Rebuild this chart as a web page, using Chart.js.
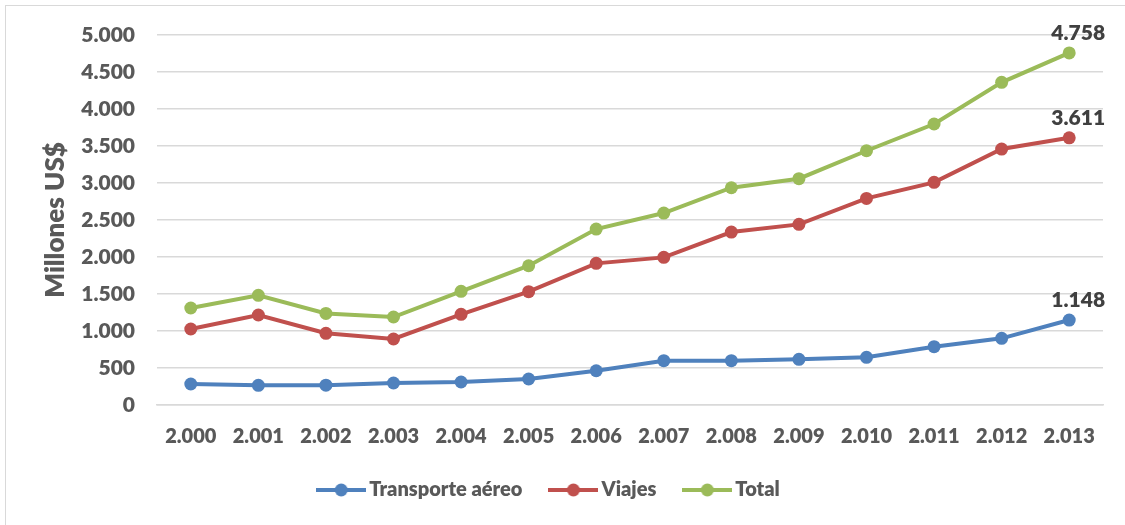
<!DOCTYPE html>
<html>
<head>
<meta charset="utf-8">
<script src="https://cdn.jsdelivr.net/npm/chart.js@4"></script>
<style>
  body { margin: 0; background: #fff; }
  #wrap { position: relative; width: 1125px; height: 525px; overflow: hidden; }
  #frame { position: absolute; left: 5px; top: 5px; width: 1200px; height: 600px; border-left: 1.5px solid #d9d9d9; border-top: 1.5px solid #d9d9d9; }
  canvas { position: absolute; left: 0; top: 0; }
</style>
</head>
<body>
<div id="wrap">
  <div id="frame"></div>
  <canvas id="tourismChart" width="1125" height="525"></canvas>
</div>
<script>
// years shown on the x axis
const years = ["2.000", "2.001", "2.002", "2.003", "2.004", "2.005", "2.006",
               "2.007", "2.008", "2.009", "2.010", "2.011", "2.012", "2.013"];

// values (millones US$)
const transporteAereo = [284, 266, 268, 297, 311, 351, 463, 599, 599, 617, 644, 788, 901, 1148];
const viajes = [1027, 1216, 969, 892, 1225, 1531, 1914, 1995, 2337, 2441, 2792, 3009, 3459, 3611];
const total = [1311, 1482, 1237, 1189, 1536, 1882, 2377, 2594, 2936, 3058, 3436, 3797, 4360, 4758];

const yMin = 0;
const yMax = 5000;
const yStep = 500;

const BLUE = "#4f81bd";
const RED = "#c0504d";
const GREEN = "#9bbb59";
const FONT = "Lato, 'Open Sans', sans-serif";
const WEIGHT = 800;

// 5000 -> "5.000"
function fmt(v) {
    return String(v).replace(/\B(?=(\d{3})+(?!\d))/g, ".");
}

// little line-with-dot picture for the legend
function legendMark(color) {
    const c = document.createElement("canvas");
    c.width = 50;
    c.height = 16;
    const g = c.getContext("2d");
    g.strokeStyle = color;
    g.lineWidth = 4;
    g.beginPath();
    g.moveTo(0, 8);
    g.lineTo(50, 8);
    g.stroke();
    g.fillStyle = color;
    g.beginPath();
    g.arc(25, 8, 6.5, 0, Math.PI * 2);
    g.fill();
    return c;
}

// label on the last point of each line
const lastValueLabels = {
    id: "lastValueLabels",
    afterDatasetsDraw(chart) {
        const ctx = chart.ctx;
        ctx.save();
        ctx.font = WEIGHT + " 21px " + FONT;
        ctx.fillStyle = "#404040";
        ctx.textAlign = "center";
        ctx.textBaseline = "middle";
        chart.data.datasets.forEach((ds, i) => {
            const meta = chart.getDatasetMeta(i);
            const last = meta.data[meta.data.length - 1];
            ctx.fillText(fmt(ds.data[ds.data.length - 1]), last.x + 9, last.y - 20);
        });
        ctx.restore();
    }
};

const series = [
    { label: "Transporte aéreo", data: transporteAereo, color: BLUE },
    { label: "Viajes", data: viajes, color: RED },
    { label: "Total", data: total, color: GREEN }
];

const ctx = document.getElementById("tourismChart").getContext("2d");
new Chart(ctx, {
    type: "line",
    data: {
        labels: years,
        datasets: series.map((s) => ({
            label: s.label,
            data: s.data,
            borderColor: s.color,
            backgroundColor: s.color,
            borderWidth: 4,
            pointStyle: "circle",
            pointRadius: 6.5,
            pointHoverRadius: 6.5,
            pointBorderWidth: 0,
            tension: 0
        }))
    },
    options: {
        responsive: false,
        animation: false,
        layout: { padding: { left: 0, top: 35, right: 22, bottom: 15 } },
        plugins: {
            tooltip: { enabled: false },
            legend: {
                position: "bottom",
                labels: {
                    usePointStyle: true,
                    pointStyleWidth: 36,
                    boxHeight: 16,
                    padding: 33,
                    color: "#595959",
                    font: { family: FONT, size: 20, weight: WEIGHT },
                    generateLabels(chart) {
                        return series.map((s, i) => ({
                            text: s.label,
                            fillStyle: s.color,
                            strokeStyle: s.color,
                            lineWidth: 0,
                            pointStyle: legendMark(s.color),
                            fontColor: "#595959",
                            datasetIndex: i
                        }));
                    }
                }
            }
        },
        scales: {
            x: {
                offset: true,
                grid: { display: false, drawTicks: false },
                border: { color: "#d9d9d9", width: 1.5 },
                ticks: {
                    color: "#595959",
                    padding: 20,
                    maxRotation: 0,
                    font: { family: FONT, size: 20, weight: WEIGHT }
                },
                afterFit(scale) { scale.height = 42; }
            },
            y: {
                min: yMin,
                max: yMax,
                grid: { color: "#d9d9d9", lineWidth: 1.5, drawTicks: false },
                border: { display: false },
                ticks: {
                    stepSize: yStep,
                    color: "#595959",
                    padding: 22,
                    font: { family: FONT, size: 21, weight: WEIGHT },
                    callback: (v) => fmt(v)
                },
                title: {
                    display: true,
                    text: "Millones US$",
                    color: "#595959",
                    font: { family: FONT, size: 26, weight: WEIGHT },
                    padding: { top: 40, bottom: 0 }
                },
                afterFit(scale) { scale.width = 157; }
            }
        }
    },
    plugins: [lastValueLabels]
});
</script>
</body>
</html>
